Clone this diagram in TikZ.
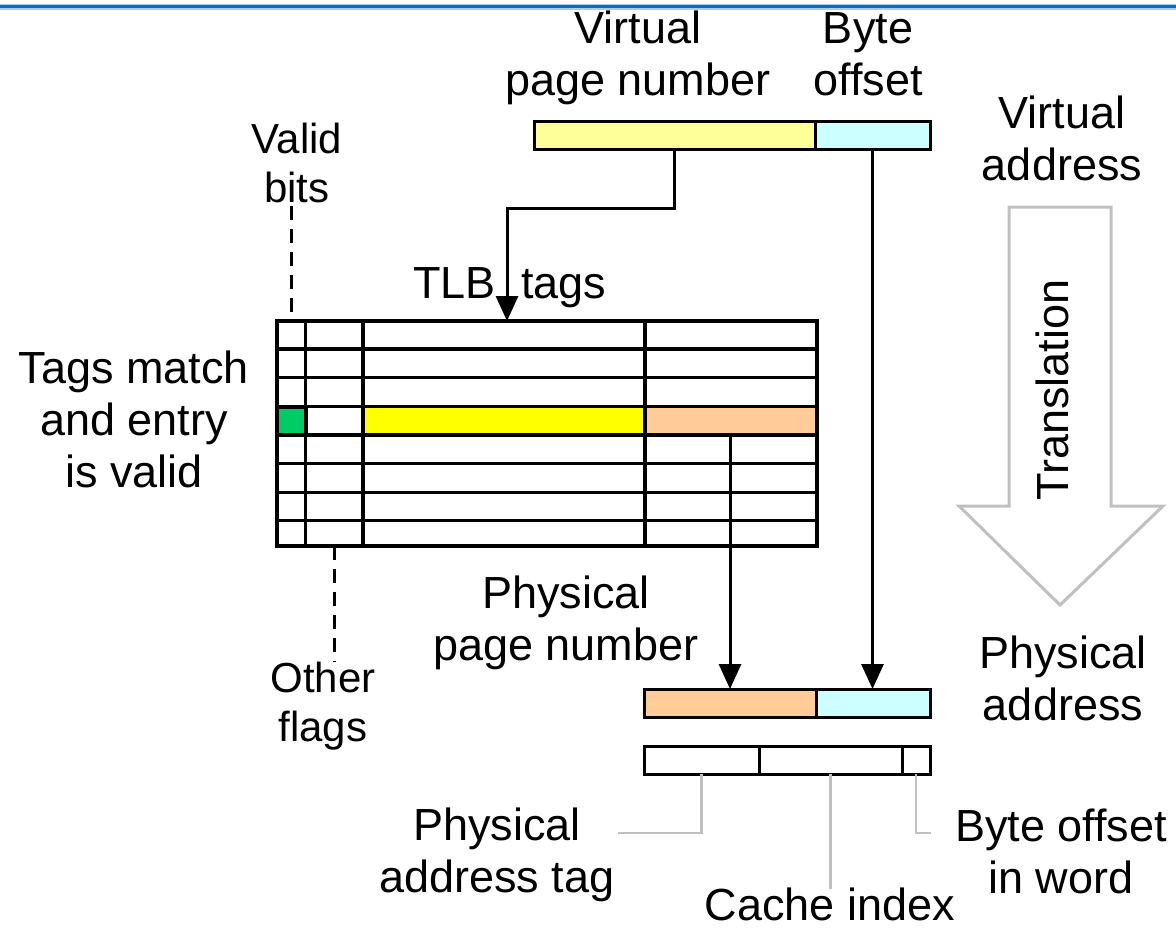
\documentclass[tikz,border=0pt]{standalone}
\usepackage{fontspec}
\setmainfont{Liberation Sans}
\usetikzlibrary{arrows.meta}
\definecolor{vpnY}{HTML}{FFFF99}
\definecolor{offC}{HTML}{CCFFFF}
\definecolor{ppnP}{HTML}{FFCC99}
\definecolor{tagY}{HTML}{FFFF00}
\definecolor{validG}{HTML}{00CC66}
\definecolor{callG}{HTML}{C0C0C0}
\definecolor{hdrB}{HTML}{0070C0}
\definecolor{hdrL}{HTML}{A9CBEA}
\newcommand\bigfs{\fontsize{45}{52}\selectfont}
\newcommand\smfs{\fontsize{42}{49}\selectfont}
\begin{document}
\begin{tikzpicture}[x=1pt,y=-1pt,
  bar/.style={draw=black, line width=3pt, inner sep=0pt, outer sep=0pt, anchor=north west, minimum height=28pt},
  cell/.style={inner sep=0pt, outer sep=0pt, anchor=north west, minimum height=28.3pt},
  arr/.style={draw=black, line width=3pt, -{Triangle[length=25pt,width=22pt]}},
  dsh/.style={draw=black, line width=3pt, dash pattern=on 14pt off 9pt},
  call/.style={draw=callG, line width=2.5pt},
  grid/.style={draw=black, line width=3.2pt},
  lbl/.style={font=\bigfs, align=center, inner sep=0pt, anchor=north},
  slbl/.style={font=\smfs, align=center, inner sep=0pt, anchor=north},
  wlbl/.style={font=\bigfs, inner sep=0pt}]
\useasboundingbox (0,0) rectangle (1176,930);
% header line
\draw[hdrL, line width=6pt] (0,6.5) -- (1176,6.5);
\draw[hdrB, line width=2.5pt] (0,6.5) -- (1176,6.5);

% virtual address
\node[bar, fill=vpnY, minimum width=281pt] (vpn) at (534,121) {};
\node[bar, fill=offC, minimum width=115pt] (voff) at (815,121) {};

% TLB table
\node[inner sep=0pt, outer sep=0pt, anchor=north west, minimum width=540pt, minimum height=225pt] (tlb) at (277,321) {};
\node[cell, fill=validG, minimum width=28.6pt] (validcell) at (277,406.7) {};
\node[cell, fill=tagY, minimum width=282pt] (tagcell) at (363,406.7) {};
\node[cell, fill=ppnP, minimum width=172pt] (ppncell) at (645,406.7) {};
\draw[grid] (tlb.north west) rectangle (tlb.south east);
\foreach \yy in {349,377.7,406.7,435,463.3,492.3,520.7}
  \draw[grid] (277,\yy) -- (817,\yy);
\foreach \xx in {305.6,363,645}
  \draw[grid] (\xx,321) -- (\xx,546);
\draw[black, line width=3.8pt] (validcell.north west) rectangle (validcell.south east);

% physical address
\node[bar, fill=ppnP, minimum width=172pt] (ppn) at (644,689) {};
\node[bar, fill=offC, minimum width=114pt] (poff) at (816,689) {};
\node[bar, minimum width=115pt] (seg1) at (644,746) {};
\node[bar, minimum width=143pt] (seg2) at (759,746) {};
\node[bar, minimum width=28pt] (seg3) at (902,746) {};

% connectors
\coordinate (tbend) at (507,208);
\draw[arr] (vpn.south) |- (tbend) -- (tbend |- tlb.north);
\draw[arr] (voff.south) -- (voff.south |- poff.north);
\draw[arr] (ppncell.south -| ppn.north) -- (ppn.north);
\coordinate (validtop) at (291,206);
\draw[dsh] (validtop) -- (validtop |- tlb.north);
\coordinate (flagend) at (334.5,662);
\draw[dsh] (flagend |- tlb.south) -- (flagend);
\coordinate (tagend) at (618,833);
\draw[call] (seg1.south) |- (tagend);
\coordinate (idxend) at (830.5,889);
\draw[call] (seg2.south) -- (idxend);
\coordinate (bowend) at (931,833);
\draw[call] (seg3.south) |- (bowend);

% translation arrow
\draw[callG, line width=3pt, line join=miter] (1009,207) -- (1111,207) -- (1111,506) -- (1163,506) -- (1060,605) -- (959,506) -- (1009,506) -- cycle;
\node[wlbl, rotate=90] (translbl) at (1052,390) {Translation};

% labels
\node[lbl] (vpnlbl) at (638,6.6) {\strut Virtual\\\strut page number};
\node[lbl] (offlbl) at (868,6.6) {\strut Byte\\\strut offset};
\node[lbl] (valbl) at (1062,91.6) {\strut Virtual\\\strut address};
\node[slbl] (validlbl) at (297,118.7) {\strut Valid\\\strut bits};
\node[lbl] (tagslbl) at (134,346.6) {\strut Tags match\\\strut and entry\\\strut is valid};
\node[wlbl, anchor=base east] (tlblbl) at (496,298) {TLB};
\node[wlbl, anchor=base west] (tagstxt) at (521,298) {tags};
\node[lbl] (ppnlbl) at (566,571.6) {\strut Physical\\\strut page number};
\node[lbl] (palbl) at (1063,631.6) {\strut Physical\\\strut address};
\node[slbl] (otherlbl) at (323,657.7) {\strut Other\\\strut flags};
\node[lbl] (patlbl) at (497,803.6) {\strut Physical\\\strut address tag};
\node[lbl] (bowlbl) at (1061,804.6) {\strut Byte offset\\\strut in word};
\node[lbl] (cilbl) at (830,883.6) {\strut Cache index};
\end{tikzpicture}
\end{document}
